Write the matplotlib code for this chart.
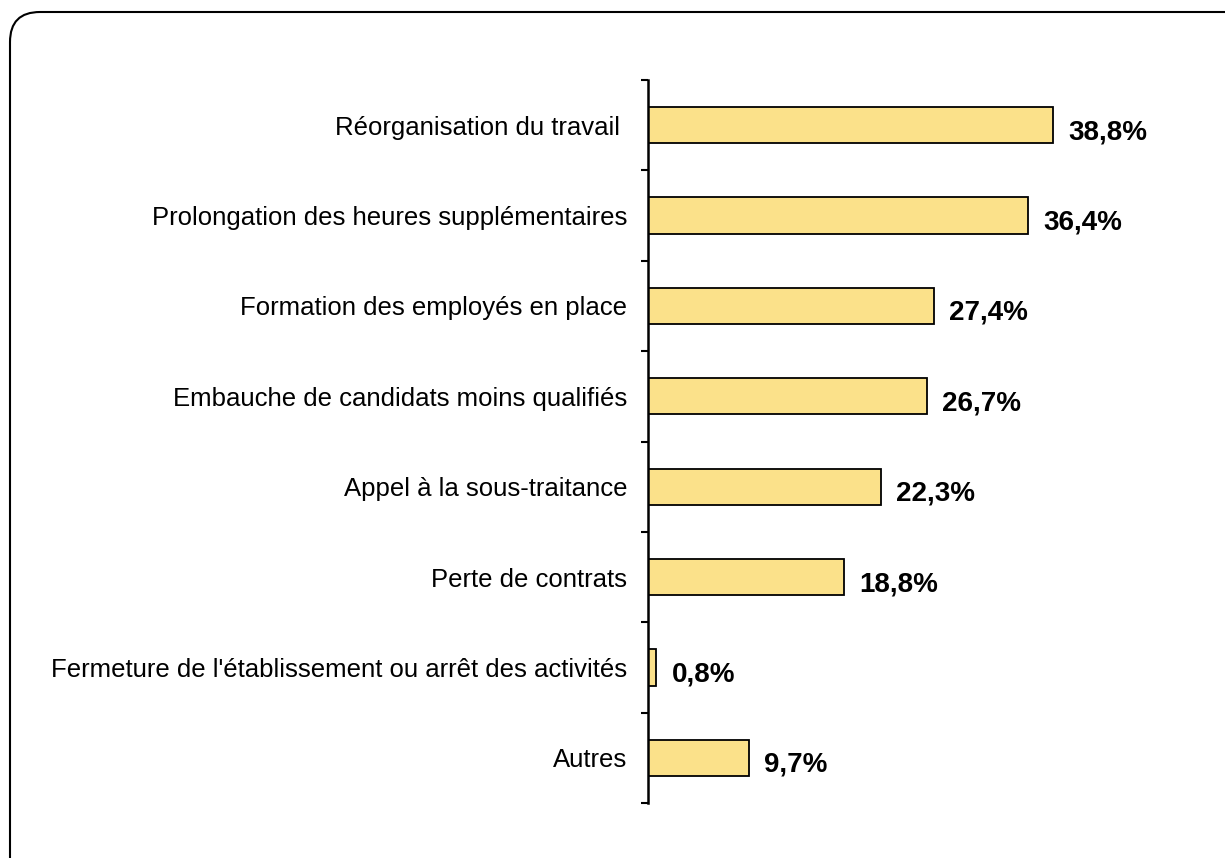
import matplotlib

matplotlib.use("Agg")
import matplotlib.pyplot as plt
from matplotlib.patches import FancyBboxPatch

categories = [
    "Réorganisation du travail ",
    "Prolongation des heures supplémentaires",
    "Formation des employés en place",
    "Embauche de candidats moins qualifiés",
    "Appel à la sous-traitance",
    "Perte de contrats",
    "Fermeture de l'établissement ou arrêt des activités",
    "Autres",
]
values = [38.8, 36.4, 27.4, 26.7, 22.3, 18.8, 0.8, 9.7]
value_labels = ["38,8%", "36,4%", "27,4%", "26,7%", "22,3%", "18,8%", "0,8%", "9,7%"]

BAR_COLOR = "#FBE18A"

plt.rcParams["font.family"] = ["Liberation Sans", "DejaVu Sans"]

fig = plt.figure(figsize=(12.25, 8.58), dpi=100)
ax = fig.add_axes([648 / 1225, 1 - 803 / 858, (1180 - 648) / 1225, (803 - 80) / 858])

pos = list(range(len(categories)))
ax.barh(pos, values, height=0.4, color=BAR_COLOR, edgecolor="black", linewidth=1.3)

for p, v, lab in zip(pos, values, value_labels):
    ax.annotate(lab, xy=(v, p), xytext=(11, -5), textcoords="offset points",
                ha="left", va="center", fontsize=20, fontweight="bold")

ax.set_xlim(0, 51)
ax.set_ylim(len(categories) - 0.5, -0.5)

ax.set_yticks(pos)
ax.set_yticklabels(categories, fontsize=18.5)
ax.set_yticks([p - 0.5 for p in pos] + [len(pos) - 0.5], minor=True)
ax.tick_params(axis="y", which="major", length=0, pad=15)
ax.tick_params(axis="y", which="minor", length=5, width=1.5, direction="out")
ax.set_xticks([])

for side in ["top", "right", "bottom"]:
    ax.spines[side].set_visible(False)
ax.spines["left"].set_linewidth(1.8)

# rounded frame around the chart (right and bottom edges run off the image)
frame = FancyBboxPatch((0.1, -0.5), 12.5, 8.96,
                       boxstyle="round,pad=0,rounding_size=0.3",
                       transform=fig.dpi_scale_trans, facecolor="none",
                       edgecolor="black", linewidth=1.5, clip_on=False)
fig.patches.append(frame)

fig.savefig("out.png", dpi=100)
